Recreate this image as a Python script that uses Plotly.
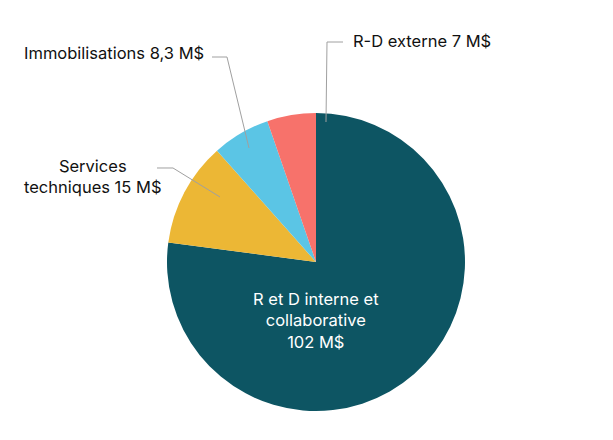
import plotly.graph_objects as go

W, H = 613, 440
OFF = 8  # page body margin

labels = ["R et D interne et collaborative", "Services techniques", "Immobilisations", "R-D externe"]
values = [102, 15, 8.3, 7]
value_text = ["102 M$", "15 M$", "8,3 M$", "7 M$"]
colors = ["#0d5563", "#ecb735", "#5bc5e5", "#f7726b"]


def px(x, y):
    # screen pixel -> paper coords
    return (x - OFF) / W, 1 - (y - OFF) / H


fig = go.Figure(go.Pie(
    labels=labels,
    values=values,
    sort=False,
    direction="clockwise",
    rotation=0,
    marker=dict(colors=colors, line=dict(width=0)),
    textinfo="none",
    hoverinfo="label+value",
    domain=dict(x=[px(167, 0)[0], px(465, 0)[0]], y=[px(0, 411)[1], px(0, 113)[1]]),
))

# leader lines (inner point, elbow, outer end) in pixels
leaders = [
    [(249, 148), (227, 57), (212, 57)],
    [(220, 197), (173, 168), (157, 168)],
    [(326, 122), (327, 42), (343, 42)],
]
for pts in leaders:
    path = "M " + " L ".join("%f,%f" % px(x, y) for x, y in pts)
    fig.add_shape(type="path", path=path, xref="paper", yref="paper",
                  line=dict(color="#a0a0a0", width=1))

fam = "Inter, Open Sans, sans-serif"
font = dict(family=fam, size=16.5, color="#111111")

fig.add_annotation(x=px(206, 0)[0], y=px(0, 53)[1], xref="paper", yref="paper",
                   text=labels[2] + " " + value_text[2], showarrow=False,
                   xanchor="right", yanchor="middle", font=font)
fig.add_annotation(x=px(93, 0)[0], y=px(0, 176)[1], xref="paper", yref="paper",
                   text="Services<br>techniques " + value_text[1], showarrow=False,
                   xanchor="center", yanchor="middle", align="center", font=font)
fig.add_annotation(x=px(351, 0)[0], y=px(0, 41)[1], xref="paper", yref="paper",
                   text=labels[3] + " " + value_text[3], showarrow=False,
                   xanchor="left", yanchor="middle", font=font)
fig.add_annotation(x=px(316, 0)[0], y=px(0, 320)[1], xref="paper", yref="paper",
                   text="R et D interne et<br>collaborative<br>" + value_text[0],
                   showarrow=False, xanchor="center", yanchor="middle", align="center",
                   font=dict(family=fam, size=16.5, color="#ffffff"))

fig.update_layout(
    width=W, height=H,
    margin=dict(l=0, r=0, t=0, b=0),
    showlegend=False,
    paper_bgcolor="white",
)

fig.write_html("out.html")
